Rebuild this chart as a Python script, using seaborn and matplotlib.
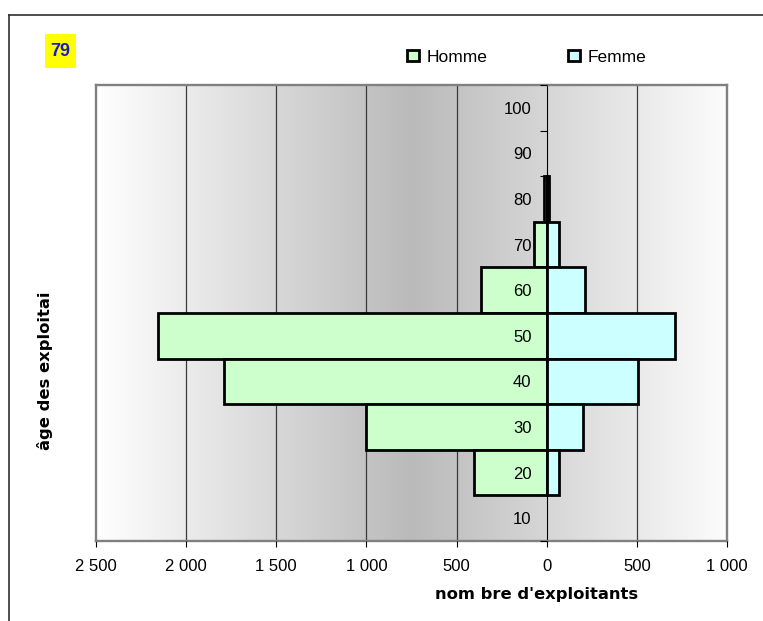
import numpy as np
import pandas as pd
import matplotlib
matplotlib.use("Agg")
import matplotlib.pyplot as plt
from matplotlib.patches import Patch, Rectangle
from matplotlib.lines import Line2D
import seaborn as sns

# Age classes (bottom to top) and number of farm operators per sex
ages = ["10", "20", "30", "40", "50", "60", "70", "80", "90", "100"]
homme = [0, 405, 1000, 1790, 2155, 365, 70, 15, 0, 0]
femme = [0, 70, 200, 505, 710, 210, 70, 14, 0, 0]

x_ticks = [-2500, -2000, -1500, -1000, -500, 0, 500, 1000]
x_tick_labels = ["2 500", "2 000", "1 500", "1 000", "500", "0", "500", "1 000"]

dept_code = "79"
series_names = ["Homme", "Femme"]
x_title = "nom bre d'exploitants"
y_title = "âge des exploitai"

plt.rcParams["font.family"] = ["Liberation Sans", "DejaVu Sans"]

col_h = "#ccffcc"
col_f = "#ccffff"
frame_grey = "#808080"

df = pd.DataFrame({"age": ages, "homme": homme, "femme": femme})
df["homme_neg"] = -df["homme"]
order = ages[::-1]  # oldest class at the top

W, H = 763, 621
fig = plt.figure(figsize=(W / 100, H / 100), dpi=100)
ax = fig.add_axes([96 / W, 1 - 541 / H, 631 / W, 456 / H])

# Grey gradient background of the plot area
t = np.linspace(0, 1, 512)
g = np.interp(t, [0, 0.5, 1], [255, 186, 252]) / 255
grad = np.dstack([g, g, g])
ax.imshow(grad, extent=(0, 1, 0, 1), transform=ax.transAxes,
          aspect="auto", zorder=0, interpolation="bilinear")

# Bars: men to the left, women to the right (empty classes are not drawn)
sns.barplot(data=df[df["homme"] > 0], x="homme_neg", y="age", order=order,
            orient="h", color=col_h, saturation=1, width=1.0,
            edgecolor="black", linewidth=2, ax=ax, zorder=2)
sns.barplot(data=df[df["femme"] > 0], x="femme", y="age", order=order,
            orient="h", color=col_f, saturation=1, width=1.0,
            edgecolor="black", linewidth=2, ax=ax, zorder=2)

ax.set_xlim(-2500, 1000)
ax.set_ylim(len(ages) - 0.5, -0.5)
ax.set_xlabel("")
ax.set_ylabel("")
ax.set_axisbelow(False)  # age labels sit on top of the bars

# Vertical gridlines
ax.set_xticks(x_ticks)
ax.set_xticklabels(x_tick_labels)
for xv in x_ticks[1:-1]:
    if xv != 0:
        ax.axvline(xv, color="#3a3a3a", lw=0.9, zorder=1)

# Frame
for side in ("top", "right", "bottom"):
    ax.spines[side].set_color(frame_grey)
    ax.spines[side].set_linewidth(1.7)
ax.add_line(Line2D([0, 0], [0, 1], transform=ax.transAxes, color=frame_grey,
                   lw=1.7, clip_on=False, zorder=3))

# Category axis at zero
ax.spines["left"].set_position(("data", 0))
ax.spines["left"].set_color("black")
ax.spines["left"].set_linewidth(0.8)
ax.spines["left"].set_zorder(1.5)
ax.set_yticks(range(len(order)))
ax.set_yticklabels(order)
ax.set_yticks(np.arange(-0.5, len(order), 1), minor=True)
ax.tick_params(axis="y", which="major", length=0, pad=11, labelsize=12)
ax.tick_params(axis="y", which="minor", length=5, width=0.8, direction="out",
               color="black")
ax.tick_params(axis="x", which="major", length=4, width=0.8, direction="out",
               color="black", pad=9, labelsize=12)
ax.grid(False)

# Axis titles
fig.text(537 / W, 1 - 594 / H, x_title, ha="center", va="center",
         fontsize=11.8, fontweight="bold", family=["DejaVu Sans"])
fig.text(45 / W, 1 - 371 / H, y_title, ha="center", va="center",
         rotation=90, fontsize=11.8, fontweight="bold", family=["DejaVu Sans"])

# Legend
handles = [Patch(facecolor=col_h, edgecolor="black", lw=2),
           Patch(facecolor=col_f, edgecolor="black", lw=2)]
fig.legend(handles, series_names, loc="center left",
           bbox_to_anchor=(407 / W, 1 - 57 / H), ncol=2, frameon=False,
           fontsize=12.5, handlelength=0.7, handleheight=0.65,
           handletextpad=0.45, columnspacing=4.6, borderpad=0,
           borderaxespad=0)

# Department code badge
fig.patches.append(Rectangle((45 / W, 1 - 68 / H), 31 / W, 34 / H,
                             facecolor="#ffff00", edgecolor="none",
                             transform=fig.transFigure, figure=fig))
fig.text(60.5 / W, 1 - 51 / H, dept_code, ha="center", va="center",
         fontsize=13, fontweight="bold", color="#1a1acc")

# Outer frame lines
fig.add_artist(Line2D([9 / W, 1], [1 - 15 / H, 1 - 15 / H],
                      color="#303030", lw=1.2, transform=fig.transFigure))
fig.add_artist(Line2D([9 / W, 9 / W], [0, 1 - 15 / H],
                      color="#303030", lw=1.2, transform=fig.transFigure))

fig.savefig("out.png", dpi=100)
